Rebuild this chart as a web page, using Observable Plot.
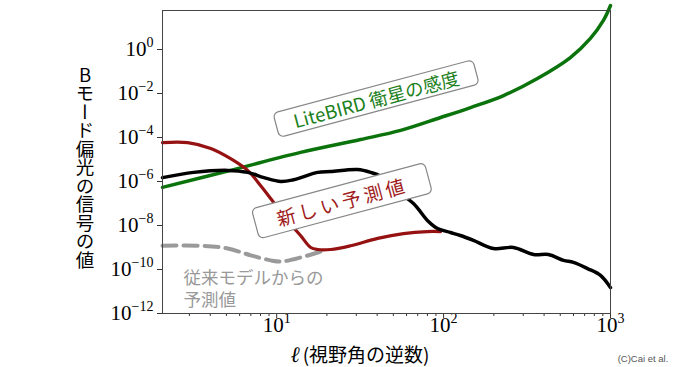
<!DOCTYPE html>
<html><head><meta charset="utf-8">
<script src="https://cdn.jsdelivr.net/npm/d3@7"></script>
<script src="https://cdn.jsdelivr.net/npm/@observablehq/plot@0.6"></script>
<style>
body{margin:0;background:#fff}
#chart{width:700px;height:367px}
svg{overflow:visible}
</style>
</head><body><div id="chart"></div>
<script>
// ---- data (ℓ = multipole, v = B-mode signal) ----
const greenL = [2.07, 5.3, 13.9, 31.8, 55.3, 96, 145, 229, 365, 575, 758, 907, 1000];
const greenV = [5.4e-7, 3.2e-6, 2.1e-5, 8.1e-5, 2.1e-4, 8.1e-4, 2.3e-3, 8.1e-3, 0.048, 0.43, 3.2, 21, 100];

const redL = [2.07, 2.93, 4.03, 5.3, 6.7, 8.0, 9.2, 11.3, 13.9, 16.0, 17.6, 21.1, 27.7, 40.3, 57.5, 80, 96];
const redV = [5.9e-5, 5.9e-5, 3.2e-5, 1.1e-5, 3.2e-6, 6.6e-7, 1.7e-7, 2.1e-8, 3.5e-9, 1e-9, 8.1e-10, 8.1e-10, 1.2e-9, 2.6e-9, 4.3e-9, 5.3e-9, 5.3e-9];

const blackL = [2.07, 3.18, 5.1, 6.7, 8.4, 10.6, 12.6, 17.6, 21.1, 30.5, 36.6, 42, 51.6, 66, 80, 92, 110, 126, 151, 199, 262, 346, 425, 523, 600, 728, 871, 1000];
const blackV = [1.5e-6, 2.6e-6, 3.2e-6, 2.6e-6, 1.5e-6, 1e-6, 1.2e-6, 2.6e-6, 2.85e-6, 3.5e-6, 2.6e-6, 1.7e-6, 3.9e-7, 1e-7, 1.7e-8, 7.3e-9, 4.8e-9, 3.5e-9, 2.1e-9, 9e-10, 1e-9, 4.8e-10, 4.8e-10, 2.6e-10, 2.1e-10, 1.1e-10, 5.4e-11, 1.5e-11];

const oldL = [2.07, 3.51, 5.1, 7.0, 9.2, 10.6, 13.9, 17.6, 19.1];
const oldV = [1.2e-9, 1.2e-9, 9e-10, 4.4e-10, 2.6e-10, 2.3e-10, 3.5e-10, 5.9e-10, 7.2e-10];

const xMajorTicks = [10, 100, 1000];
const xMinorTicks = [3, 4, 5, 6, 7, 8, 9, 20, 30, 40, 50, 60, 70, 80, 90, 200, 300, 400, 500, 600, 700, 800, 900];
const yTicks = [1e-12, 1e-10, 1e-8, 1e-6, 1e-4, 1e-2, 1e0];

const labelLite = "LiteBIRD 衛星の感度";
const labelNew = "新しい予測値";
const labelOld = "従来モデルからの\n予測値";
const yTitle = "Bモード偏光の信号の値";
const xTitleSym = "ℓ";
const xTitleText = "(視野角の逆数)";
const credit = "(C)Cai et al.";

// annotation anchors (data coordinates)
const annLite = [{l: 39.7, v: 4.8e-3}];
const annNew = [{l: 24.8, v: 1.05e-7}];
const annOld = [{l: 2.77, v: 1.5e-11}];

const rows = (L, V) => L.map((l, i) => ({l, v: V[i]}));
const fmt = d => "10^" + Math.round(Math.log10(d));
const cjk = "'Noto Sans CJK JP', 'Noto Sans', sans-serif";

const plot = Plot.plot({
  width: 700, height: 367,
  marginLeft: 162, marginRight: 90, marginTop: 10, marginBottom: 54,
  style: {fontFamily: "'Liberation Serif', serif", fontSize: "21px", color: "#000", background: "#fff", overflow: "visible"},
  x: {type: "log", domain: [2.07, 1000], label: null},
  y: {type: "log", domain: [1e-12, 59.3], label: null},
  marks: [
    Plot.axisX({ticks: xMinorTicks, tickSize: 3, tickFormat: () => "", stroke: "#333"}),
    Plot.axisX({ticks: xMajorTicks, tickSize: 5, tickPadding: -1, tickFormat: fmt, stroke: "#333"}),
    Plot.axisY({ticks: yTicks, tickSize: 5, tickPadding: 4, tickFormat: fmt, stroke: "#333"}),
    Plot.line(rows(greenL, greenV), {x: "l", y: "v", stroke: "#0b730b", strokeWidth: 3.5, curve: "catmull-rom"}),
    Plot.line(rows(oldL, oldV), {x: "l", y: "v", stroke: "#9a9a9a", strokeWidth: 4, strokeDasharray: "14,7", curve: "catmull-rom"}),
    Plot.line(rows(redL, redV), {x: "l", y: "v", stroke: "#961212", strokeWidth: 3.2, curve: "catmull-rom"}),
    Plot.line(rows(blackL, blackV), {x: "l", y: "v", stroke: "#000", strokeWidth: 3.5, curve: "catmull-rom"}),
    Plot.frame({stroke: "#444", strokeWidth: 1}),
    Plot.text(annLite, {x: "l", y: "v", text: () => labelLite, rotate: -15, fill: "#1b7f1b", fontSize: 18.5, fontFamily: cjk}),
    Plot.text(annNew, {x: "l", y: "v", text: () => labelNew, rotate: -15, fill: "#a01c1c", fontSize: 19, fontFamily: cjk}),
    Plot.text(annOld, {x: "l", y: "v", text: () => labelOld, textAnchor: "start", lineAnchor: "middle", lineHeight: 1.3, fill: "#999", fontSize: 17.5, fontFamily: cjk})
  ]
});

document.getElementById("chart").appendChild(plot);
const svg = d3.select(plot);

// superscript exponents on tick labels
plot.querySelectorAll('g[aria-label$="tick label"] text').forEach(t => {
  const m = t.textContent.match(/^10\^(-?\d+)$/);
  if (!m) return;
  t.textContent = "";
  const s = d3.select(t);
  s.append("tspan").text("10");
  s.append("tspan").attr("font-size", 14).attr("dy", "-9").text(m[1].replace("-", "−"));
});

// rounded boxes behind the rotated labels
function boxIt(label, padX, boxH, spacing) {
  Array.from(plot.querySelectorAll("text"))
    .filter(t => t.textContent === label)
    .forEach(t => {
      if (spacing) t.style.letterSpacing = spacing + "px";
      const b = t.getBBox();
      const cy = b.y + b.height / 2;
      const r = document.createElementNS("http://www.w3.org/2000/svg", "rect");
      r.setAttribute("x", b.x - padX);
      r.setAttribute("y", cy - boxH / 2);
      r.setAttribute("width", b.width + 2 * padX);
      r.setAttribute("height", boxH);
      r.setAttribute("rx", 5);
      r.setAttribute("fill", "#fff");
      r.setAttribute("stroke", "#888");
      r.setAttribute("stroke-width", 1.2);
      const tr = t.getAttribute("transform");
      if (tr) r.setAttribute("transform", tr);
      t.parentNode.insertBefore(r, t);
    });
}
boxIt(labelLite, 18, 25, 0);
boxIt(labelNew, 22, 31, 3.5);

// y title (vertical, upright characters)
svg.append("text")
  .attr("x", 85).attr("y", 167)
  .attr("writing-mode", "vertical-rl")
  .style("text-orientation", "upright")
  .attr("text-anchor", "middle")
  .attr("font-family", cjk)
  .attr("font-size", 18.5)
  .attr("fill", "#000")
  .text(yTitle);

// x title
const xt = svg.append("text")
  .attr("x", 360).attr("y", 362)
  .attr("text-anchor", "middle")
  .attr("fill", "#000");
xt.append("tspan").attr("font-family", "'Liberation Serif', serif").attr("font-style", "italic").attr("font-size", 22).text(xTitleSym);
xt.append("tspan").attr("font-family", cjk).attr("font-size", 19).attr("dx", 3).text(xTitleText);

// credit
svg.append("text")
  .attr("x", 643).attr("y", 362)
  .attr("font-family", "'Liberation Sans', sans-serif")
  .attr("font-size", 9.5)
  .attr("fill", "#555")
  .text(credit);
</script>
</body></html>
